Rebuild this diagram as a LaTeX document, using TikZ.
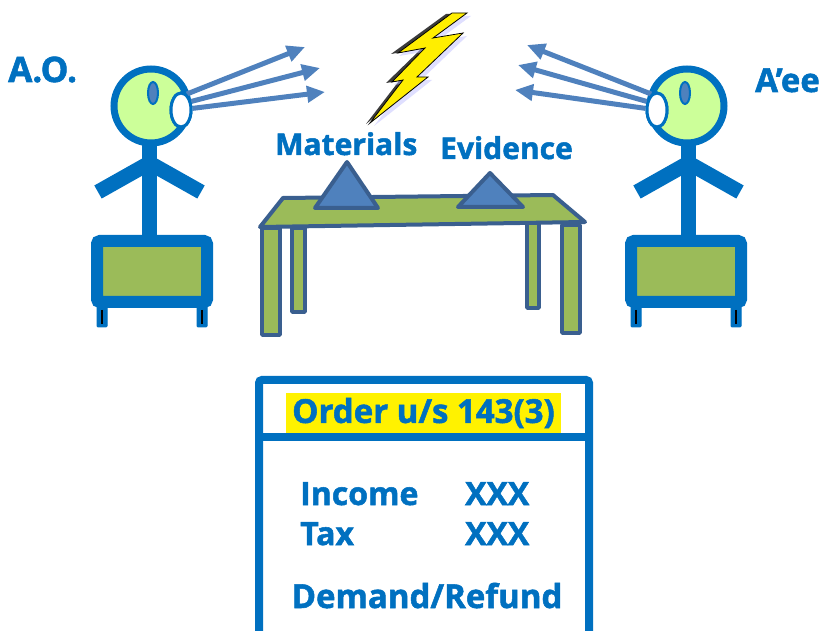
\documentclass[tikz,border=0pt]{standalone}
\usepackage{fontspec}
\setmainfont{Open Sans}[BoldFeatures={FakeBold=1.6}]
\usetikzlibrary{arrows.meta,shapes.geometric}
\definecolor{figblue}{HTML}{0070C0}
\definecolor{headgreen}{HTML}{CCFF99}
\definecolor{boxgreen}{HTML}{9BBB59}
\definecolor{tableedge}{HTML}{3A5F8F}
\definecolor{accent}{HTML}{4F81BD}
\definecolor{boltyellow}{HTML}{FFEE00}
\begin{document}
\begin{tikzpicture}[x=1pt,y=-1pt,
  bluetext/.style={text=figblue, inner sep=0pt, font=\bfseries\fontsize{#1}{#1}\selectfont},
  bluetext/.default=32,
  limb/.style={draw=figblue, line width=15pt},
  lookray/.style={draw=accent, line width=5pt, -{Triangle[length=18pt,width=16pt]}},
  woodpart/.style={draw=tableedge, fill=boxgreen, line width=3.5pt, line join=round},
  itempile/.style={draw=tableedge, fill=accent, line width=4pt, line join=round},
  eyewhite/.style={ellipse, draw=figblue, fill=white, line width=3pt, minimum width=20pt, minimum height=34pt, inner sep=0pt},
  pics/person/.style={code={
    % seat
    \draw[figblue, fill=figblue, line width=1pt, rounded corners=1pt] (-54,192) rectangle (-44,221);
    \draw[figblue, fill=figblue, line width=1pt, rounded corners=1pt] (46,192) rectangle (56,221);
    \draw[black, line width=1.5pt] (-49,204) -- (-49,218);
    \draw[black, line width=1.5pt] (51,204) -- (51,218);
    \draw[figblue, fill=boxgreen, line width=12pt, rounded corners=3pt] (-54,135) rectangle (56,196);
    % body and arms
    \draw[limb] (-1.5,38) -- (-1.5,132);
    \draw[limb] (-1.5,57) -- (-53,86);
    \draw[limb] (-1.5,57) -- (50,86);
    % head
    \draw[figblue, fill=headgreen, line width=7pt] (0,0) circle (37);
    \draw[figblue, fill=accent, line width=2pt] (2,-13) ellipse (5 and 11);
    \node[eyewhite] (-eye) at (30,4) {};
  }}]
\clip (0,0) rectangle (831,631);
\useasboundingbox (0,0) rectangle (831,631);

% the two people
\pic (L) at (151,106) {person};
\pic[xscale=-1] (R) at (687,106) {person};

% lines of sight
\coordinate (la) at (305,47);
\coordinate (lb) at (320,68);
\coordinate (lc) at (325,92);
\coordinate (ra) at (527,45);
\coordinate (rb) at (518,65);
\coordinate (rc) at (515,90);
\draw[lookray] (L-eye.70) -- (la);
\draw[lookray] (L-eye.40) -- (lb);
\draw[lookray] (L-eye.8) -- (lc);
\draw[lookray] (R-eye.110) -- (ra);
\draw[lookray] (R-eye.140) -- (rb);
\draw[lookray] (R-eye.172) -- (rc);
\node[eyewhite] at (L-eye) {};
\node[eyewhite] at (R-eye) {};

\node[bluetext=35, anchor=base west] (ao) at (8,82) {A.O.};
\node[bluetext=33, anchor=base west] (aee) at (755,92) {A’ee};

% lightning bolt
\fill[black!85, opacity=0.9] ([shift={(-4,1)}]450,13) -- ([shift={(-4,1)}]467,13) -- ([shift={(-4,1)}]433,38) -- ([shift={(-4,1)}]463,33)
  -- ([shift={(-4,1)}]417,77) -- ([shift={(-4,1)}]428,77) -- ([shift={(-4,1)}]370,123) -- ([shift={(-4,1)}]403,80)
  -- ([shift={(-4,1)}]390,82) -- ([shift={(-4,1)}]425,48) -- ([shift={(-4,1)}]395,53) -- cycle;
\fill[blue!25, opacity=0.5] ([shift={(4,3)}]450,13) -- ([shift={(4,3)}]467,13) -- ([shift={(4,3)}]433,38) -- ([shift={(4,3)}]463,33)
  -- ([shift={(4,3)}]417,77) -- ([shift={(4,3)}]428,77) -- ([shift={(4,3)}]370,123) -- ([shift={(4,3)}]403,80)
  -- ([shift={(4,3)}]390,82) -- ([shift={(4,3)}]425,48) -- ([shift={(4,3)}]395,53) -- cycle;
\draw[fill=boltyellow, draw=black, line width=0.8pt, line join=miter]
  (452,13) -- (467,13) -- (433,38) -- (463,33) -- (417,77) -- (428,77) -- (370,123)
  -- (403,80) -- (392,82) -- (425,48) -- (398,53) -- cycle;

% table
\draw[woodpart] (292,228) rectangle (305,312);
\draw[woodpart] (527,223) rectangle (539,308);
\draw[woodpart] (262,228) rectangle (280,335);
\draw[woodpart] (562,225) rectangle (580,333);
\draw[woodpart, line width=4pt] (260,227) -- (283,198) -- (553,195) -- (585,222) -- cycle;
\draw[itempile] (315,208) -- (347,162) -- (378,208) -- cycle;
\draw[itempile] (458,207) -- (490,173) -- (523,207) -- cycle;
\node[bluetext=30, anchor=base west] (mat) at (275,155) {Materials};
\node[bluetext=30, anchor=base west] (evi) at (440,159) {Evidence};

% order sheet
\draw[figblue, line width=8pt, rounded corners=3pt] (259,660) -- (259,380) -- (589,380) -- (589,660);
\draw[figblue, line width=8pt] (259,437) -- (589,437);
\node[fill=yellow, minimum width=275pt, minimum height=40pt, inner sep=0pt] (hl) at (423.5,413) {};
\node[bluetext=33] (order) at (hl) {Order u/s 143(3)};
\node[bluetext, anchor=base west] (inc) at (300,505) {Income};
\node[bluetext, anchor=base west] (incv) at (465,505) {XXX};
\node[bluetext, anchor=base west] (tax) at (300,545) {Tax};
\node[bluetext, anchor=base west] (taxv) at (465,545) {XXX};
\node[bluetext=33, anchor=base] (dr) at (427,608) {Demand/Refund};
\end{tikzpicture}
\end{document}
